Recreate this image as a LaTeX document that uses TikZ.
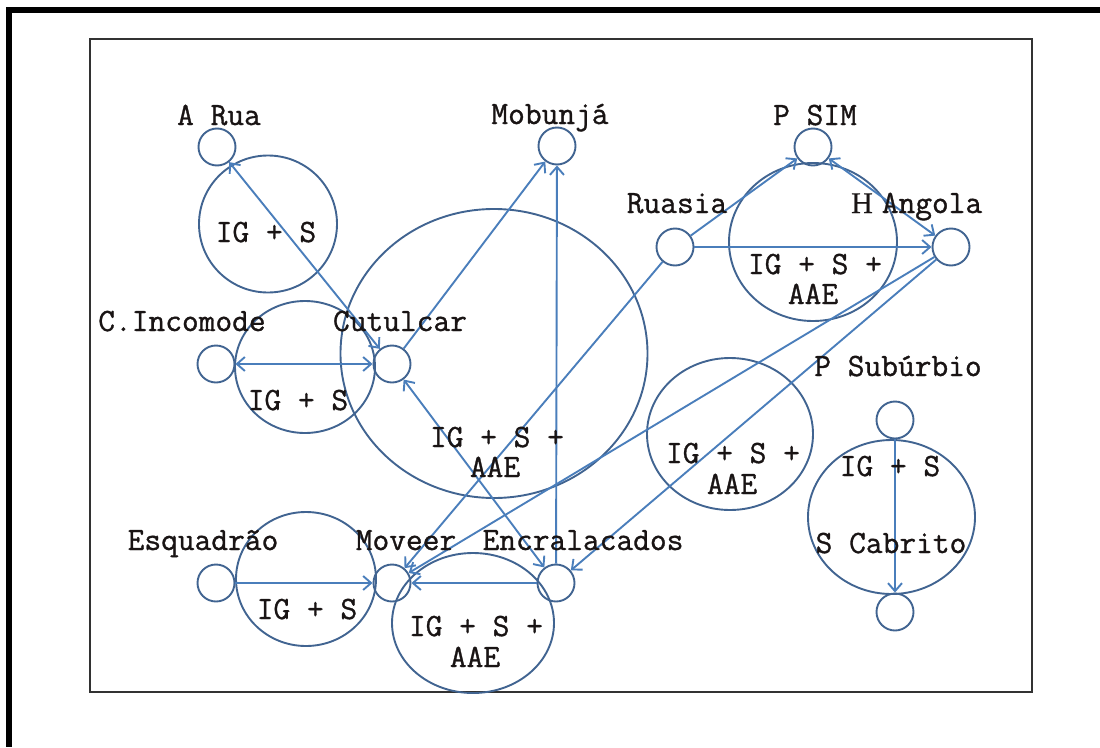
\documentclass[tikz,border=0pt]{standalone}
\usepackage{fontspec}
\setmonofont{Latin Modern Mono}[FakeBold=1]
\newfontfamily\serifH{Liberation Serif}[FakeBold=0.6]
\usetikzlibrary{arrows.meta,shapes.geometric}
\definecolor{ring}{RGB}{65,100,145}
\definecolor{arr}{RGB}{74,126,187}
\definecolor{txt}{RGB}{25,20,20}
\definecolor{frame}{RGB}{50,50,50}
\begin{document}
\begin{tikzpicture}[x=1pt,y=-1pt,
  small/.style={circle,draw=ring,line width=1.9pt,minimum size=37pt,inner sep=0pt},
  zone/.style={ellipse,draw=ring,line width=1.9pt,inner sep=0pt},
  lbl/.style={font=\ttfamily\fontsize{32.5}{34}\selectfont,text=txt,inner sep=0pt,anchor=base},
  conn/.style={draw=arr,line width=1.9pt,-{Straight Barb[length=8pt,width=14pt]}},
  biconn/.style={draw=arr,line width=1.9pt,{Straight Barb[length=8pt,width=14pt]}-{Straight Barb[length=8pt,width=14pt]}}]
\useasboundingbox (0,0) rectangle (1100,747);
% outer frame (left and top only)
\fill[black] (6,7) rectangle (12,747);
\fill[black] (6,7) rectangle (1100,13);
% inner frame
\draw[frame,line width=2pt] (89.5,39) rectangle (1032,692);
% zones
\node[zone,minimum width=138pt,minimum height=137pt] (zArua) at (268,224) {};
\node[zone,minimum width=140pt,minimum height=132pt] (zInc) at (305,367) {};
\node[zone,minimum width=307pt,minimum height=289pt] (zCut) at (494,353.5) {};
\node[zone,minimum width=168pt,minimum height=158pt] (zAng) at (813,242) {};
\node[zone,minimum width=166pt,minimum height=152pt] (zMid) at (730,434) {};
\node[zone,minimum width=167pt,minimum height=154pt] (zSub) at (891.5,517) {};
\node[zone,minimum width=140pt,minimum height=134pt] (zEsq) at (306,579) {};
\node[zone,minimum width=162pt,minimum height=140pt] (zMov) at (473,623) {};
% small nodes
\node[small] (arua) at (217,147) {};
\node[small] (mob) at (557,146) {};
\node[small] (psim) at (813,147) {};
\node[small] (ang) at (951,247) {};
\node[small] (rua) at (675,247) {};
\node[small] (inc) at (216,364) {};
\node[small] (cut) at (392,364) {};
\node[small] (esq) at (216,583) {};
\node[small] (mov) at (392,583) {};
\node[small] (enc) at (556,583) {};
\node[small] (sub) at (895,420) {};
\node[small] (cab) at (895,612) {};
% connectors
\draw[biconn] (cut) -- (arua);
\draw[biconn] (inc) -- (cut);
\draw[conn] (cut) -- (mob);
\draw[conn] (enc) -- (mob);
\draw[biconn] (enc) -- (cut);
\draw[conn] (rua) -- (ang);
\draw[conn] (rua) -- (psim);
\draw[biconn] (ang) -- (psim);
\draw[conn] (rua) -- (mov);
\draw[conn] (ang) -- (mov);
\draw[conn] (ang) -- (enc);
\draw[conn] (enc) -- (mov);
\draw[conn] (esq) -- (mov);
\draw[conn] (sub) -- (cab);
% labels
\node[lbl] (tArua) at (219,125) {A Rua};
\node[lbl] (tMob) at (550,124) {Mobunjá};
\node[lbl] (tPsim) at (815,125) {P SIM};
\node[lbl] (tRua) at (677,213) {Ruasia};
\node[lbl,font=\serifH\fontsize{30}{30}\selectfont] (tH) at (862,213) {H};
\node[lbl] (tAng) at (932,213) {Angola};
\node[lbl] (tInc) at (182,331) {C.Incomode};
\node[lbl] (tCut) at (400,331) {Cutulcar};
\node[lbl] (tEsq) at (203,550) {Esquadrão};
\node[lbl] (tMov) at (406,550) {Moveer};
\node[lbl] (tEnc) at (583,550) {Encralacados};
\node[lbl] (tSub) at (898,376) {P Subúrbio};
\node[lbl] (tCab) at (891,553) {S Cabrito};
\node[lbl] (lArua) at (266,242) {IG + S};
\node[lbl] (lInc) at (298,410) {IG + S};
\node[lbl] (lEsq) at (307,619) {IG + S};
\node[lbl] (lSub) at (890,476) {IG + S};
\node[lbl] (lCut1) at (497,447) {IG + S +};
\node[lbl] (lCut2) at (495,477) {AAE};
\node[lbl] (lAng1) at (815,274) {IG + S +};
\node[lbl] (lAng2) at (813,304) {AAE};
\node[lbl] (lMid1) at (733,463) {IG + S +};
\node[lbl] (lMid2) at (732,494) {AAE};
\node[lbl] (lMov1) at (476,636) {IG + S +};
\node[lbl] (lMov2) at (475,667) {AAE};
\end{tikzpicture}
\end{document}
